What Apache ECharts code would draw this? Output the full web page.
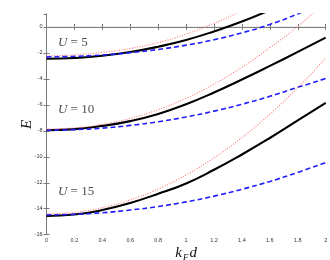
<!DOCTYPE html>
<html><head><meta charset="utf-8">
<script src="https://cdn.jsdelivr.net/npm/echarts@6/dist/echarts.min.js"></script>
<style>html,body{margin:0;padding:0;background:#fff}#c{width:330px;height:260px}</style>
</head><body><div id="c"></div>
<script>
// x values (k_F d)
const kd = [0, 0.2, 0.4, 0.6, 0.8, 1.0, 1.2, 1.4, 1.6, 1.8, 2.0];
// U = 5
const blackU5 = [-2.45, -2.39, -2.22, -1.93, -1.52, -1.0, -0.34, 0.42, 1.3, 2.3, 3.4];
const blueU5  = [-2.30, -2.26, -2.16, -1.98, -1.73, -1.40, -0.98, -0.45, 0.2, 1.0, 1.9];
const redU5   = [-2.22, -2.15, -1.95, -1.65, -1.20, -0.55, 0.28, 1.25, 2.35, 3.55, 4.85];
// U = 10
const blackU10 = [-7.95, -7.87, -7.62, -7.25, -6.70, -5.95, -5.05, -4.05, -3.0, -1.92, -0.82];
const blueU10  = [-7.95, -7.91, -7.79, -7.58, -7.30, -6.93, -6.48, -5.95, -5.34, -4.65, -3.97];
const redU10   = [-7.85, -7.77, -7.50, -7.04, -6.37, -5.49, -4.40, -3.10, -1.60, 0.05, 1.95];
// U = 15
const blackU15 = [-14.56, -14.45, -14.10, -13.55, -12.85, -12.05, -11.0, -9.82, -8.55, -7.2, -5.85];
const blueU15  = [-14.47, -14.43, -14.31, -14.1, -13.83, -13.47, -13.03, -12.5, -11.9, -11.2, -10.45];
const redU15   = [-14.40, -14.28, -13.92, -13.32, -12.48, -11.4, -10.08, -8.52, -6.72, -4.68, -2.4];
// zero reference line
const zeroX = [0, 2];
const zeroY = [0, 0];
// annotations
const uValues = [5, 10, 15];
const uLabelX = [0.082, 0.082, 0.082];
const uLabelY = [-1.22, -6.37, -12.64];

const pts = arr => kd.map((x, i) => [x, arr[i]]);
const black = d => ({type:'line', data:pts(d), smooth:true, showSymbol:false, symbol:'none', clip:true,
  lineStyle:{color:'#000', width:2.1}, z:3});
const blue = d => ({type:'line', data:pts(d), smooth:true, showSymbol:false, symbol:'none', clip:true,
  lineStyle:{color:'#1e1eff', width:1.6, type:[5,3]}, z:4});
const red = d => ({type:'line', data:pts(d), smooth:true, showSymbol:false, symbol:'none', clip:true,
  lineStyle:{color:'#ff7575', width:1.1, type:[1,1.6]}, z:5});

const axisCol = '#7a7a7a';
const lblStyle = {fontSize:5.5, color:'#333', fontFamily:'Liberation Sans'};
const chart = echarts.init(document.getElementById('c'), null, {renderer:'canvas'});
chart.setOption({
  animation:false,
  backgroundColor:'#fff',
  grid:{left:46.5, right:4.3, top:14, bottom:25.3, containLabel:false, outerBoundsMode:'none'},
  xAxis:[{
    type:'value', position:'bottom', min:0, max:2, interval:0.2,
    axisLine:{lineStyle:{color:axisCol, width:1}},
    axisTick:{inside:true, length:3, lineStyle:{color:axisCol}},
    axisLabel:Object.assign({margin:3, formatter:v => String(+v.toFixed(1))}, lblStyle),
    splitLine:{show:false},
    name:'{k|k}{f|F}{d|d}', nameLocation:'middle', nameGap:11, nameMoveOverlap:false,
    nameTextStyle:{rich:{
      k:{fontFamily:'Liberation Serif', fontStyle:'italic', fontSize:15, lineHeight:16, verticalAlign:'top', color:'#111'},
      f:{fontFamily:'Liberation Serif', fontStyle:'italic', fontSize:9, lineHeight:23, verticalAlign:'middle', color:'#111', padding:[0,1,0,1]},
      d:{fontFamily:'Liberation Serif', fontStyle:'italic', fontSize:15, lineHeight:16, verticalAlign:'top', color:'#111'}
    }}
  },{
    type:'value', position:'top', min:0, max:2, interval:0.2,
    axisLine:{lineStyle:{color:axisCol, width:1}},
    axisTick:{inside:true, length:3, lineStyle:{color:axisCol}},
    axisLabel:{show:false}, splitLine:{show:false}
  }],
  yAxis:[{
    type:'value', position:'left', min:-16, max:1, interval:2,
    axisLine:{lineStyle:{color:axisCol, width:1}},
    axisTick:{inside:true, length:3, lineStyle:{color:axisCol}},
    axisLabel:Object.assign({margin:4, showMaxLabel:false, formatter:v => (v % 2 === 0 ? String(v) : '')}, lblStyle),
    splitLine:{show:false},
    name:'E', nameLocation:'middle', nameGap:12, nameMoveOverlap:false,
    nameTextStyle:{fontFamily:'Liberation Serif', fontStyle:'italic', fontSize:15, color:'#111'}
  },{
    type:'value', position:'right', min:-16, max:1, interval:2,
    axisLine:{lineStyle:{color:axisCol, width:1}},
    axisTick:{inside:true, length:3, lineStyle:{color:axisCol}},
    axisLabel:{show:false}, splitLine:{show:false}
  }],
  series:[
    {type:'line', data:zeroX.map((x,i)=>[x, zeroY[i]]), showSymbol:false, symbol:'none',
     lineStyle:{color:'#999', width:1, type:[1,2]}, z:2},
    black(blackU5), black(blackU10), black(blackU15),
    blue(blueU5), blue(blueU10), blue(blueU15),
    red(redU5), red(redU10), red(redU15),
    {type:'scatter', symbolSize:0, z:6,
     data:uValues.map((u,i)=>({value:[uLabelX[i], uLabelY[i]], name:String(u)})),
     label:{show:true, position:'right', distance:0,
       formatter:p => '{u|U}{r| = ' + p.name + '}',
       rich:{
         u:{fontFamily:'Liberation Serif', fontStyle:'italic', fontSize:13, color:'#222'},
         r:{fontFamily:'Liberation Serif', fontSize:13, color:'#222'}
       }}}
  ]
});
</script></body></html>
